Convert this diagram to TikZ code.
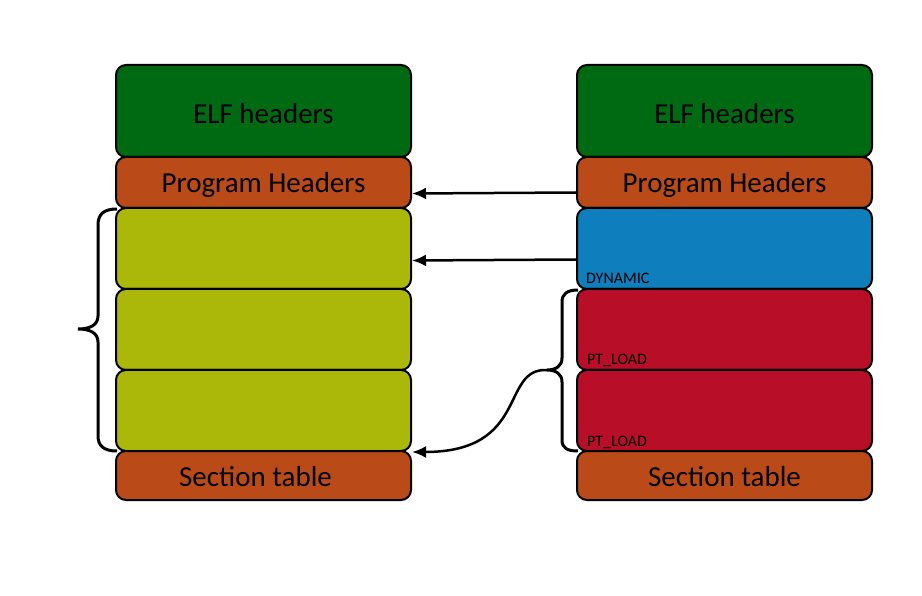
\documentclass[tikz,border=0pt]{standalone}
\usepackage{fontspec}
\setmainfont{Carlito}
\usetikzlibrary{arrows.meta}
\definecolor{elfgreen}{HTML}{006A12}
\definecolor{phorange}{HTML}{BB4A19}
\definecolor{olive}{HTML}{ABB80A}
\definecolor{dynblue}{HTML}{0F7EBD}
\definecolor{loadred}{HTML}{B90E27}
\tikzset{
  box/.style={draw=black, line width=2pt, rounded corners=10pt, minimum width=295pt, inner sep=0pt},
  btext/.style={font=\fontsize{29}{34}\selectfont, inner sep=0pt},
  small/.style={font=\fontsize{16}{19}\selectfont, inner sep=0pt, anchor=base west},
  arr/.style={line width=2.5pt, -{Latex[length=14pt,width=12pt]}},
  brace/.style={line width=3pt}
}
\begin{document}
\begin{tikzpicture}[x=1pt,y=-1pt]
\useasboundingbox (0,0) rectangle (922,596);
% left column
\node[box, fill=elfgreen, minimum height=92pt,
  label={[btext, yshift=-3pt]center:ELF headers}] (l1) at (263.5,111) {};
\node[box, fill=phorange, minimum height=51pt,
  label={[btext, yshift=-2pt]center:Program Headers}] (l2) at (263.5,182.5) {};
\node[box, fill=olive, minimum height=81pt] (l3) at (263.5,248.5) {};
\node[box, fill=olive, minimum height=81pt] (l4) at (263.5,329.5) {};
\node[box, fill=olive, minimum height=81pt] (l5) at (263.5,410.5) {};
\node[box, fill=phorange, minimum height=49pt,
  label={[btext, yshift=-1pt, xshift=-8pt]center:Section table}] (l6) at (263.5,475.5) {};
% right column
\node[box, fill=elfgreen, minimum height=92pt,
  label={[btext, yshift=-3pt]center:ELF headers}] (r1) at (724.5,111) {};
\node[box, fill=phorange, minimum height=51pt,
  label={[btext, yshift=-2pt]center:Program Headers}] (r2) at (724.5,182.5) {};
\node[box, fill=dynblue, minimum height=81pt] (r3) at (724.5,248.5) {};
\node[box, fill=loadred, minimum height=81pt] (r4) at (724.5,329.5) {};
\node[box, fill=loadred, minimum height=81pt] (r5) at (724.5,410.5) {};
\node[box, fill=phorange, minimum height=49pt,
  label={[btext, yshift=-1pt]center:Section table}] (r6) at (724.5,475.5) {};
% labels
\node[small] (t3) at (586,284) {DYNAMIC};
\node[small] (t4) at (587,365) {PT\_LOAD};
\node[small] (t5) at (587,446) {PT\_LOAD};
% arrows
\draw[arr] ([yshift=-10pt]r2.west) -- ([yshift=-11pt]l2.east);
\draw[arr] ([yshift=-11pt]r3.west) -- ([yshift=-12pt]l3.east);
% left brace
\draw[brace] (117,209) .. controls (104,209) and (98,214) .. (98,225) -- (98,316)
  .. controls (98,325) and (90,329) .. (78,329)
  .. controls (90,329) and (98,333) .. (98,342) -- (98,436)
  .. controls (98,446) and (104,451) .. (117,451);
% right brace
\coordinate (rtip) at (547,370);
\draw[brace] (578,290) .. controls (567,290) and (562,294) .. (562,302) -- (562,358)
  .. controls (562,366) and (556,370) .. (rtip)
  .. controls (556,370) and (562,374) .. (562,382) -- (562,440)
  .. controls (562,448) and (567,451) .. (578,451);
\draw[arr] (rtip) .. controls (500,368) and (530,452) .. (l5.south east);
\end{tikzpicture}
\end{document}
